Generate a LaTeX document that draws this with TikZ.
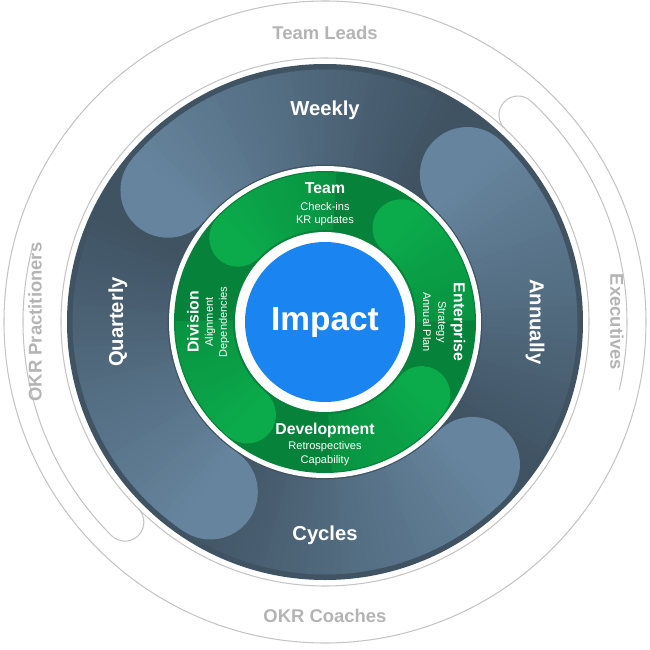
\documentclass[tikz,border=0pt]{standalone}
\usepackage{fontspec}
\setmainfont{Liberation Sans}
\definecolor{slatedark}{HTML}{3F5363}
\definecolor{slatelight}{HTML}{66849D}
\definecolor{greendark}{HTML}{07823A}
\definecolor{greenlight}{HTML}{0BAA4B}
\definecolor{impactblue}{HTML}{1A85F0}
\definecolor{ringgray}{HTML}{C4C4C4}
\definecolor{labelgray}{HTML}{B4B4B4}
\tikzset{
  ringlabel/.style={text=white,font=\bfseries\fontsize{11.5}{12}\selectfont},
  outerlabel/.style={text=labelgray,font=\bfseries\fontsize{10.5}{11}\selectfont},
  stagelabel/.style={text=white,font=\bfseries\fontsize{9}{10}\selectfont},
  sublabel/.style={text=white,font=\fontsize{6.3}{7}\selectfont},
  grayline/.style={ringgray,line width=0.6pt},
}
\begin{document}
\begin{tikzpicture}[x=0.02cm,y=0.02cm]
        \useasboundingbox (-325,-328) rectangle (325,322);

        % outer gray band
        \draw[grayline] (0,0) circle (321);
        \draw[grayline] (0,0) circle (264);
        \foreach \a in {47,225}{
          \draw[grayline] (\a:264) arc[start angle=\a+180,end angle=\a,radius=19]
            arc[start angle=\a,end angle=\a-60,radius=302];
        }

        % dark ring
        \fill[slatedark] (0,0) circle (258);
        \foreach \a in {140,46,-44,236}{
          \draw[slatelight,line width=1.9cm,line cap=round]
            (\a:205) arc (\a:\a-1:205);
          \foreach \i in {0,...,39}{
            \pgfmathsetmacro{\mix}{100-2.5*\i}
            \draw[slatelight!\mix!slatedark,line width=1.9cm]
              (\a-2*\i:205) arc (\a-2*\i:\a-2*\i-2.6:205);
          }
        }
        \fill[white] (0,0) circle (156);

        % green ring
        \fill[greendark] (0,0) circle (151);
        \foreach \a in {136,51,-37,230}{
          \draw[greenlight,line width=1.15cm,line cap=round]
            (\a:121) arc (\a:\a-1:121);
          \foreach \i in {0,...,24}{
            \pgfmathsetmacro{\mix}{100-2.4*\i}
            \draw[greenlight!\mix!greendark,line width=1.15cm]
              (\a-2*\i:121) arc (\a-2*\i:\a-2*\i-2.6:121);
          }
        }
        \fill[white] (0,0) circle (90);
        \fill[impactblue] (0,0) circle (80);

        % labels
        \node[text=white,font=\bfseries\fontsize{19}{20}\selectfont] (impact) at (0,0) {Impact};

        \node[ringlabel] (weekly) at (0,212) {Weekly};
        \node[ringlabel] (cycles) at (0,-213) {Cycles};
        \node[ringlabel,rotate=90] (quarterly) at (-207,0) {Quarterly};
        \node[ringlabel,rotate=-90] (annually) at (210,0) {Annually};

        \node[outerlabel] (leads) at (0,289) {Team Leads};
        \node[outerlabel] (coaches) at (0,-294) {OKR Coaches};
        \node[outerlabel,rotate=90] (practitioners) at (-290,0) {OKR Practitioners};
        \node[outerlabel,rotate=-90] (executives) at (292,0) {Executives};

        \node[stagelabel] (team) at (0,134) {Team};
        \node[sublabel] (checkins) at (0,115) {Check-ins};
        \node[sublabel] (krupdates) at (0,101) {KR updates};

        \node[stagelabel] (development) at (0,-108) {Development};
        \node[sublabel] (retro) at (0,-125) {Retrospectives};
        \node[sublabel] (capability) at (0,-139) {Capability};

        \node[stagelabel,rotate=90] (division) at (-132,0) {Division};
        \node[sublabel,rotate=90] (alignment) at (-115,0) {Alignment};
        \node[sublabel,rotate=90] (dependencies) at (-101,0) {Dependencies};

        \node[stagelabel,rotate=-90] (enterprise) at (133,0) {Enterprise};
        \node[sublabel,rotate=-90] (strategy) at (116,0) {Strategy};
        \node[sublabel,rotate=-90] (annualplan) at (102,0) {Annual Plan};

    \end{tikzpicture}
\end{document}
